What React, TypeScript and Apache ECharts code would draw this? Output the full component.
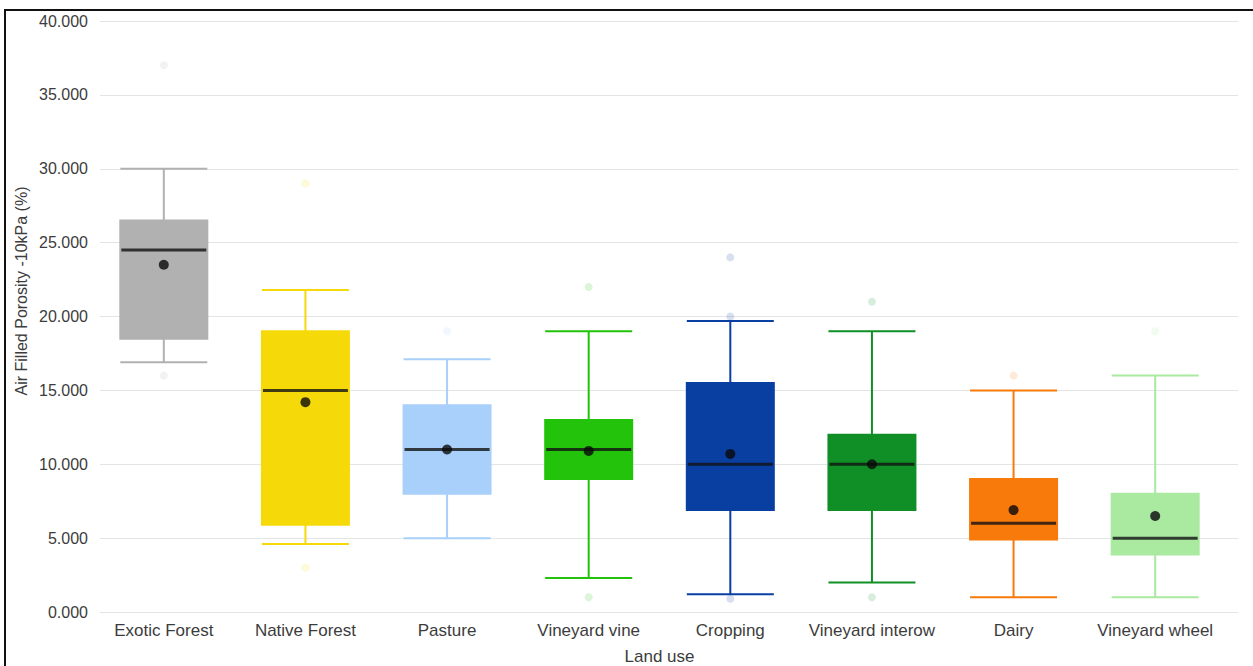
import React, { useEffect, useRef } from "react";
import * as echarts from "echarts";

const categories = [
  "Exotic Forest",
  "Native Forest",
  "Pasture",
  "Vineyard vine",
  "Cropping",
  "Vineyard interow",
  "Dairy",
  "Vineyard wheel",
];
const colors = [
  "#b1b1b1",
  "#f6d908",
  "#a8d0fa",
  "#23c20b",
  "#0a3fa2",
  "#0f8f26",
  "#f87a0b",
  "#a9e9a0",
];
// [lower whisker, Q1, median, Q3, upper whisker]
const boxValues = [
  [16.9, 18.5, 24.5, 26.5, 30.0],
  [4.6, 5.9, 15.0, 19.0, 21.8],
  [5.0, 8.0, 11.0, 14.0, 17.1],
  [2.3, 9.0, 11.0, 13.0, 19.0],
  [1.2, 6.9, 10.0, 15.5, 19.7],
  [2.0, 6.9, 10.0, 12.0, 19.0],
  [1.0, 4.9, 6.0, 9.0, 15.0],
  [1.0, 3.9, 5.0, 8.0, 16.0],
];
const means = [23.5, 14.2, 11.0, 10.9, 10.7, 10.0, 6.9, 6.5];
// [category index, value]
const outliers = [
  [0, 37.0],
  [0, 16.0],
  [1, 29.0],
  [1, 3.0],
  [2, 19.0],
  [3, 22.0],
  [3, 1.0],
  [4, 24.0],
  [4, 20.0],
  [4, 0.9],
  [5, 21.0],
  [5, 1.0],
  [6, 16.0],
  [7, 19.0],
];
const yTicks = { min: 0, max: 40, interval: 5 };

const FONT = "'Liberation Sans', Arial, sans-serif";
const TEXT = "#3c3c3c";

export default function App() {
  const ref = useRef<HTMLDivElement>(null);
  useEffect(() => {
    if (!ref.current) return;
    const chart = echarts.init(ref.current, undefined, { renderer: "svg" });
    chart.setOption({
      animation: false,
      backgroundColor: "#ffffff",
      grid: [
        { left: 100, right: 15, top: 21, bottom: 54, outerBoundsMode: "none", containLabel: false },
        { left: 93, right: 27, top: 21, bottom: 54, outerBoundsMode: "none", containLabel: false },
      ],
      xAxis: [
        { type: "value", gridIndex: 0, show: false, min: 0, max: 1 },
        {
          type: "category",
          gridIndex: 1,
          data: categories,
          axisLine: { show: false },
          axisTick: { show: false },
          axisLabel: {
            color: TEXT,
            fontSize: 17,
            fontFamily: FONT,
            margin: 10,
            interval: 0,
          },
          name: "Land use",
          nameLocation: "middle",
          nameGap: 36,
          nameTextStyle: { color: TEXT, fontSize: 17, fontFamily: FONT },
        },
      ],
      yAxis: [
        {
          type: "value",
          gridIndex: 0,
          min: yTicks.min,
          max: yTicks.max,
          interval: yTicks.interval,
          axisLine: { show: false },
          axisTick: { show: false },
          axisLabel: {
            color: TEXT,
            fontSize: 16,
            fontFamily: FONT,
            margin: 12,
            formatter: (v: number) => v.toFixed(3),
          },
          splitLine: { lineStyle: { color: "#e4e4e4", width: 1 } },
        },
        {
          type: "value",
          gridIndex: 1,
          min: yTicks.min,
          max: yTicks.max,
          interval: yTicks.interval,
          show: false,
          splitLine: { show: false },
        },
      ],
      graphic: [
        {
          type: "text",
          x: 21,
          y: 291,
          rotation: Math.PI / 2,
          style: {
            text: "Air Filled Porosity -10kPa (%)",
            fill: TEXT,
            font: `16px ${FONT}`,
            textAlign: "center",
            textVerticalAlign: "middle",
          },
        },
        {
          type: "line",
          shape: { x1: 5, y1: 10, x2: 5, y2: 666 },
          style: { stroke: "#111", lineWidth: 2 },
        },
        {
          type: "line",
          shape: { x1: 4, y1: 10, x2: 1253, y2: 10 },
          style: { stroke: "#111", lineWidth: 2 },
        },
      ],
      series: [
        {
          type: "scatter",
          xAxisIndex: 1,
          yAxisIndex: 1,
          symbolSize: 8,
          data: outliers.map(([c, v]) => ({
            value: [c, v],
            itemStyle: { color: colors[c], opacity: 0.16 },
          })),
          z: 1,
        },
        {
          type: "boxplot",
          xAxisIndex: 1,
          yAxisIndex: 1,
          boxWidth: [87, 87],
          data: boxValues.map((b, i) => ({
            value: b,
            itemStyle: { color: colors[i], borderColor: colors[i], borderWidth: 2 },
          })),
          z: 2,
        },
        {
          type: "scatter",
          xAxisIndex: 1,
          yAxisIndex: 1,
          symbol: "rect",
          symbolSize: [85, 3],
          itemStyle: { color: "#111" },
          data: boxValues.map((b, i) => [i, b[2]]),
          z: 3,
        },
        {
          type: "scatter",
          xAxisIndex: 1,
          yAxisIndex: 1,
          symbol: "circle",
          symbolSize: 10,
          itemStyle: { color: "#0a0a0a" },
          data: means.map((m, i) => [i, m]),
          z: 4,
        },
      ],
    });
    return () => chart.dispose();
  }, []);
  return (
    <div
      ref={ref}
      style={{ position: "fixed", left: 0, top: 0, width: 1253, height: 666 }}
    />
  );
}
